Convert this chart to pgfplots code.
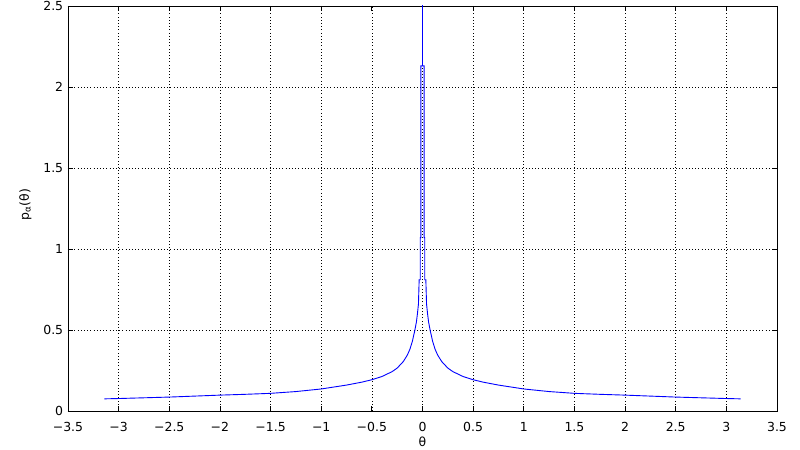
\documentclass[border=0pt]{standalone}
\usepackage{fontspec}
\setmainfont{DejaVu Sans}
\usepackage{pgfplots}
\pgfplotsset{compat=1.18}
\begin{document}
\fontsize{12.5}{14}\selectfont
\begin{tikzpicture}
\useasboundingbox (-68bp,-39bp) rectangle (732bp,411bp);
\begin{axis}[
 at={(0,0)}, anchor=south west,
 scale only axis, width=709bp, height=405bp,
 xmin=-3.5, xmax=3.5, ymin=0, ymax=2.5,
 xtick={-3.5,-3,-2.5,-2,-1.5,-1,-0.5,0,0.5,1,1.5,2,2.5,3,3.5},
 xticklabels={−3.5,−3,−2.5,−2,−1.5,−1,−0.5,0,0.5,1,1.5,2,2.5,3,3.5},
 ytick={0,0.5,1,1.5,2,2.5},
 grid=major,
 major grid style={black, line width=0.6bp, dash pattern=on 0.8bp off 2.4bp},
 axis line style={black, line width=0.8bp},
 tick style={black, line width=0.8bp},
 major tick length=5bp,
 /pgf/number format/assume math mode=true,
 ticklabel style={font=\fontsize{12.5}{14}\selectfont},
 xticklabel style={yshift=-7bp},
 yticklabel style={xshift=-0.5bp},
 xlabel={θ}, ylabel={p\textsubscript{α}(θ)},
 xlabel style={at={(axis description cs:0.5,-0.077)}, anchor=center, font=\fontsize{12.5}{14}\selectfont},
 ylabel style={at={(axis description cs:-0.06,0.51)}, anchor=center, font=\fontsize{12.5}{14}\selectfont},
]
\addplot[blue, line width=0.9bp] coordinates {
(-3.1416,0.075) (-3.0,0.077) (-2.5,0.086) (-2.0,0.098) (-1.75,0.103) (-1.5,0.109)
(-1.25,0.12) (-1.0,0.136) (-0.75,0.16) (-0.6,0.178) (-0.5,0.193) (-0.4,0.213)
(-0.3,0.243) (-0.25,0.265) (-0.19,0.305) (-0.15,0.345) (-0.125,0.38) (-0.1,0.43)
(-0.075,0.5) (-0.06,0.55) (-0.05,0.6) (-0.04,0.66) (-0.033,0.81) (-0.022,0.81)
(-0.022,1.07) (-0.016,1.07) (-0.016,2.13) (0,2.13) (0,8) (0,2.13)
(0.016,2.13) (0.016,1.07) (0.022,1.07) (0.022,0.81) (0.033,0.81) (0.04,0.66)
(0.05,0.6) (0.06,0.55) (0.075,0.5) (0.1,0.43) (0.125,0.38) (0.15,0.345)
(0.19,0.305) (0.25,0.265) (0.3,0.243) (0.4,0.213) (0.5,0.193) (0.6,0.178)
(0.75,0.16) (1.0,0.136) (1.25,0.12) (1.5,0.109) (1.75,0.103) (2.0,0.098)
(2.5,0.086) (3.0,0.077) (3.1416,0.075)
};
\end{axis}
\end{tikzpicture}
\end{document}
